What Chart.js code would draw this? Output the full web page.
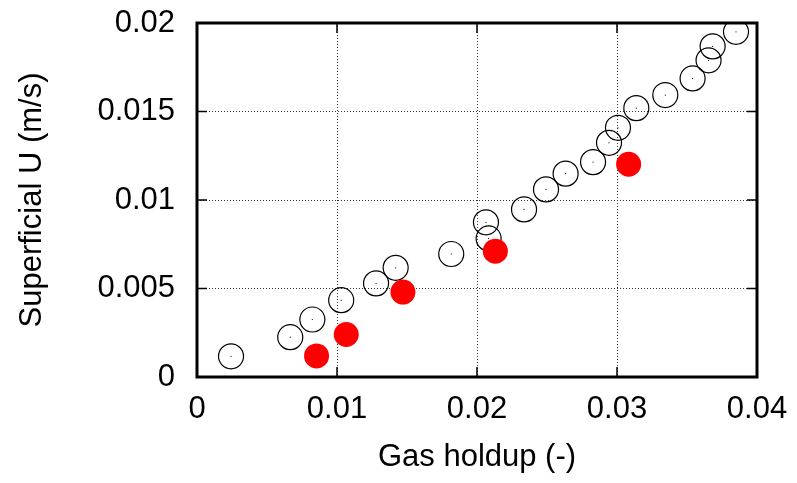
<!DOCTYPE html>
<html>
<head>
<meta charset="utf-8">
<script src="https://cdn.jsdelivr.net/npm/chart.js@4"></script>
<style>
  html, body { margin: 0; padding: 0; background: #fff; }
  #wrap { width: 797px; height: 483px; }
</style>
</head>
<body>
<div id="wrap"><canvas id="myChart" width="797" height="483"></canvas></div>
<script>
// open circles
const openX = [0.00243, 0.00666, 0.00824, 0.0103, 0.01279, 0.01419, 0.01816, 0.02064, 0.02083, 0.02336, 0.02493,
  0.02633, 0.02829, 0.02943, 0.03007, 0.03138, 0.03345, 0.0354, 0.03654, 0.03683, 0.0385];
const openY = [0.00117, 0.00225, 0.00325, 0.00434, 0.00529, 0.00617, 0.00695, 0.00874, 0.00783, 0.00947, 0.0106,
  0.01149, 0.01214, 0.01323, 0.01408, 0.01519, 0.01593, 0.01687, 0.01789, 0.01868, 0.0195];
// filled red points
const redX = [0.00854, 0.01066, 0.01471, 0.02131, 0.03083];
const redY = [0.00119, 0.0024, 0.0048, 0.00711, 0.01202];

const xTickLabels = ["0", "0.01", "0.02", "0.03", "0.04"];
const yTickLabels = ["0", "0.005", "0.01", "0.015", "0.02"];

const toPoints = (xs, ys) => xs.map((x, i) => ({ x: x, y: ys[i] }));

const FONT = "'Liberation Sans', Arial, sans-serif";

// frame + inward ticks on all four sides, like gnuplot
const frameTicks = {
  id: "frameTicks",
  afterDraw(chart) {
    const { ctx, chartArea: { left, right, top, bottom }, scales: { x, y } } = chart;
    ctx.save();
    ctx.strokeStyle = "#000";
    ctx.lineWidth = 1.5;
    ctx.beginPath();
    x.ticks.forEach((t) => {
      const px = x.getPixelForValue(t.value);
      ctx.moveTo(px, bottom); ctx.lineTo(px, bottom - 10);
      ctx.moveTo(px, top); ctx.lineTo(px, top + 10);
    });
    y.ticks.forEach((t) => {
      const py = y.getPixelForValue(t.value);
      ctx.moveTo(left, py); ctx.lineTo(left + 10, py);
      ctx.moveTo(right, py); ctx.lineTo(right - 10, py);
    });
    ctx.stroke();
    ctx.lineWidth = 3;
    ctx.strokeRect(left, top, right - left, bottom - top);
    ctx.restore();
  },
};

const ctx = document.getElementById("myChart");
new Chart(ctx, {
  type: "scatter",
  data: {
    datasets: [
      {
        label: "red",
        data: toPoints(redX, redY),
        pointRadius: 12.5,
        pointBackgroundColor: "#ff0000",
        pointBorderWidth: 0,
        order: 0,
      },
      {
        label: "open",
        data: toPoints(openX, openY),
        pointRadius: 12.5,
        pointBackgroundColor: "rgba(0,0,0,0)",
        pointBorderColor: "#000",
        pointBorderWidth: 1.2,
        order: 1,
      },
      {
        label: "open centre",
        data: toPoints(openX, openY),
        pointRadius: 0.6,
        pointBackgroundColor: "#000",
        pointBorderWidth: 0,
        order: 2,
      },
    ],
  },
  options: {
    responsive: false,
    animation: false,
    events: [],
    layout: { padding: { left: 0, right: 40, top: 23, bottom: 0 } },
    plugins: {
      legend: { display: false },
      tooltip: { enabled: false },
    },
    scales: {
      x: {
        type: "linear",
        min: 0,
        max: 0.04,
        ticks: {
          stepSize: 0.01,
          padding: 14,
          color: "#000",
          font: { family: FONT, size: 31 },
          callback: (v, i) => xTickLabels[i],
        },
        grid: {
          color: (c) => (c.index === 0 || c.index === 4 ? "rgba(0,0,0,0)" : "#333"),
          lineWidth: 1,
          drawTicks: false,
        },
        border: { display: false, dash: [1, 2] },
        title: {
          display: true,
          text: "Gas holdup (-)",
          color: "#000",
          font: { family: FONT, size: 31 },
          padding: { top: 0, bottom: 7 },
        },
        afterFit(scale) {
          scale.height = 106;
          scale.paddingRight = 0;
        },
      },
      y: {
        type: "linear",
        min: 0,
        max: 0.02,
        ticks: {
          stepSize: 0.005,
          padding: 22,
          color: "#000",
          font: { family: FONT, size: 31 },
          callback: (v, i) => yTickLabels[i],
        },
        grid: {
          color: (c) => (c.index === 0 || c.index === 4 ? "rgba(0,0,0,0)" : "#333"),
          lineWidth: 1,
          drawTicks: false,
        },
        border: { display: false, dash: [1, 2] },
        title: {
          display: true,
          text: "Superficial U (m/s)",
          color: "#000",
          font: { family: FONT, size: 31 },
          padding: { top: 14, bottom: 0 },
        },
        afterFit(scale) {
          scale.width = 197;
          scale.paddingTop = 0;
          scale.paddingBottom = 0;
        },
      },
    },
  },
  plugins: [frameTicks],
});
</script>
</body>
</html>
